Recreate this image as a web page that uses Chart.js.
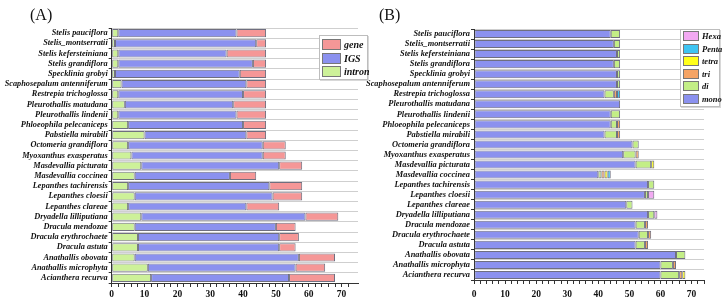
<!DOCTYPE html>
<html>
<head>
<meta charset="utf-8">
<script src="https://cdn.jsdelivr.net/npm/chart.js@4.4.1/dist/chart.umd.min.js"></script>
<style>
  html, body { margin: 0; padding: 0; background: #fff; }
  body { width: 724px; height: 306px; position: relative; overflow: hidden; font-family: 'Liberation Serif', 'Times New Roman', serif; }
  .panel { position: absolute; top: 0; width: 362px; height: 306px; }
  .title { position: absolute; font-size: 16px; color: #111; }
  .legend { position: absolute; background: #fff; border: 1px solid #bdbdbd; box-shadow: 1px 1px 0 #d8d8d8; }
  .legend .row { position: absolute; left: 0; display: flex; align-items: center; }
  .legend .sw { border: 1px solid #777; box-sizing: border-box; }
  .legend .lb { font-weight: bold; font-style: italic; color: #111; white-space: nowrap; }
</style>
</head>
<body>
<div class="panel" style="left:0"><canvas id="cA" width="362" height="306"></canvas></div>
<div class="panel" style="left:362px"><canvas id="cB" width="362" height="306"></canvas></div>
<div class="title" style="left:30px; top:6px;">(A)</div>
<div class="title" style="left:379px; top:6px;">(B)</div>
<div id="legA" class="legend" style="left:319px; top:35px; width:47px; height:43px;"></div>
<div id="legB" class="legend" style="left:680px; top:29px; width:38px; height:76px;"></div>
<script>
const species = [
  'Stelis pauciflora', 'Stelis_montserratii', 'Stelis kefersteiniana', 'Stelis grandiflora',
  'Specklinia grobyi', 'Scaphosepalum antenniferum', 'Restrepia trichoglossa', 'Pleurothallis matudana',
  'Pleurothallis lindenii', 'Phloeophila pelecaniceps', 'Pabstiella mirabili', 'Octomeria grandiflora',
  'Myoxanthus exasperatus', 'Masdevallia picturata', 'Masdevallia coccinea', 'Lepanthes tachirensis',
  'Lepanthes cloesii', 'Lepanthes clareae', 'Dryadella lilliputiana', 'Dracula mendozae',
  'Dracula erythrochaete', 'Dracula astuta', 'Anathallis obovata', 'Anathallis microphyta', 'Acianthera recurva'
];

// Panel A: region counts
const intron = [2,1,2,2,1,3,2,4,2,5,10,5,6,9,7,5,7,5,9,7,8,8,7,11,12];
const igs    = [36,43,33,41,38,38,38,33,36,35,31,41,40,42,29,43,42,36,50,43,43,43,50,45,42];
const gene   = [9,3,12,4,8,6,7,10,9,7,6,7,7,7,8,10,9,10,10,6,6,5,11,9,14];

// Panel B: SSR motif types
const mono  = [44,45,46,45,46,46,42,47,44,44,42,51,48,52,40,56,55,49,56,52,53,52,65,60,60];
const di    = [3,2,1,2,1,1,3,0,3,2,4,2,4,5,1,2,1,2,2,3,3,3,3,4,6];
const tri   = [0,0,0,0,0,0,1,0,0,1,1,0,1,0,1,0,0,0,0,1,1,1,0,1,1];
const tetra = [0,0,0,0,0,0,0,0,0,0,0,0,0,1,1,0,0,0,0,0,0,0,0,0,1];
const penta = [0,0,0,0,0,0,1,0,0,0,0,0,0,0,1,0,0,0,0,0,0,0,0,0,0];
const hexa  = [0,0,0,0,0,0,0,0,0,0,0,0,0,0,0,0,2,0,1,0,0,0,0,0,0];

const xTickValues = [0,10,20,30,40,50,60,70];

const C = {
  gene: '#f59797', igs: '#8b91ef', intron: '#cdf199',
  mono: '#8b91ef', di: '#c3ee86', tri: '#f5a465', tetra: '#ffff1a', penta: '#3ec4f2', hexa: '#f2a9f2'
};

const serif = "'Liberation Serif', 'Times New Roman', serif";

function ds(label, data, color) {
  return {
    label, data, backgroundColor: color,
    borderColor: 'rgba(75,75,95,0.8)',
    borderWidth: (ctx) => (ctx.raw ? 1 : 0),
    borderSkipped: false,
    barPercentage: 0.8, categoryPercentage: 1.0
  };
}

function makeChart(id, datasets, opt) {
  return new Chart(document.getElementById(id), {
    type: 'bar',
    data: { labels: species, datasets },
    options: {
      indexAxis: 'y',
      responsive: false,
      animation: false,
      layout: { padding: { left: 0, right: opt.padRight, top: opt.top, bottom: 0 } },
      plugins: { legend: { display: false }, tooltip: { enabled: false } },
      scales: {
        x: {
          stacked: true, min: 0, max: opt.max,
          afterFit: (s) => { s.height = opt.xh; },
          grid: { drawOnChartArea: false, drawTicks: true, tickLength: 4, color: '#333' },
          border: { color: '#333', width: 1 },
          ticks: {
            stepSize: 2, autoSkip: false, maxRotation: 0, padding: opt.xpad,
            color: '#111',
            font: { family: serif, size: 9.5, weight: 'bold' },
            callback: (v) => (xTickValues.includes(v) ? String(v) : '')
          },
          afterBuildTicks: (s) => { s.ticks = s.ticks.filter(t => t.value % 2 === 0); }
        },
        y: {
          stacked: true,
          afterFit: (s) => { s.width = opt.yw; },
          grid: { offset: true, color: '#cfcfcf', lineWidth: 1, drawTicks: true, tickLength: 3, tickColor: '#333' },
          border: { color: '#333', width: 1 },
          ticks: {
            autoSkip: false, padding: 1, color: '#111',
            font: { family: serif, size: opt.ysize, style: 'italic', weight: 'bold' }
          }
        }
      }
    }
  });
}

makeChart('cA', [
  ds('intron', intron, C.intron),
  ds('IGS', igs, C.igs),
  ds('gene', gene, C.gene)
], { padRight: 4, top: 28, xh: 23, xpad: 2, max: 75, yw: 111.7, ysize: 8.3 });

makeChart('cB', [
  ds('mono', mono, C.mono),
  ds('di', di, C.di),
  ds('tri', tri, C.tri),
  ds('tetra', tetra, C.tetra),
  ds('Penta', penta, C.penta),
  ds('Hexa', hexa, C.hexa)
], { padRight: 20, top: 29, xh: 26, xpad: 5, max: 74, yw: 112, ysize: 8.4 });

function buildLegend(id, items, opts) {
  const el = document.getElementById(id);
  items.forEach((it, i) => {
    const row = document.createElement('div');
    row.className = 'row';
    row.style.top = (opts.y0 + i * opts.dy) + 'px';
    row.style.left = opts.x0 + 'px';
    const sw = document.createElement('div');
    sw.className = 'sw';
    sw.style.width = opts.sw + 'px';
    sw.style.height = opts.sh + 'px';
    sw.style.background = it[1];
    const lb = document.createElement('span');
    lb.className = 'lb';
    lb.style.fontSize = opts.fs + 'px';
    lb.style.marginLeft = opts.gap + 'px';
    lb.textContent = it[0];
    row.appendChild(sw); row.appendChild(lb);
    el.appendChild(row);
  });
}
buildLegend('legA', [['gene', C.gene], ['IGS', C.igs], ['intron', C.intron]],
  { x0: 2, y0: 3, dy: 13.5, sw: 19, sh: 11, fs: 10, gap: 3 });
buildLegend('legB', [['Hexa', C.hexa], ['Penta', C.penta], ['tetra', C.tetra], ['tri', C.tri], ['di', C.di], ['mono', C.mono]],
  { x0: 2, y0: 1, dy: 12.5, sw: 16, sh: 10, fs: 8.5, gap: 3 });
</script>
</body>
</html>
